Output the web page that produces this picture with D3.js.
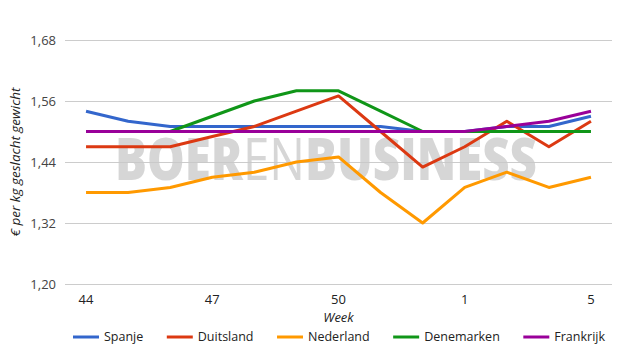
<!DOCTYPE html>
<html>
<head>
<meta charset="utf-8">
<script src="https://cdn.jsdelivr.net/npm/d3@7"></script>
<style>
  body { margin: 0; background: #fff; }
  text { font-family: "Open Sans", "DejaVu Sans", sans-serif; }
</style>
</head>
<body>
<div id="chart"></div>
<script>
var weeks = ["44", "45", "46", "47", "48", "49", "50", "51", "52", "1", "2", "3", "5"];
var tickWeeks = ["44", "47", "50", "1", "5"];
var yTicks = [1.20, 1.32, 1.44, 1.56, 1.68];

var spanje     = [1.54, 1.52, 1.51, 1.51, 1.51, 1.51, 1.51, 1.51, 1.50, 1.50, 1.51, 1.51, 1.53];
var duitsland  = [1.47, 1.47, 1.47, 1.49, 1.51, 1.54, 1.57, 1.50, 1.43, 1.47, 1.52, 1.47, 1.52];
var nederland  = [1.38, 1.38, 1.39, 1.41, 1.42, 1.44, 1.45, 1.38, 1.32, 1.39, 1.42, 1.39, 1.41];
var denemarken = [1.50, 1.50, 1.50, 1.53, 1.56, 1.58, 1.58, 1.54, 1.50, 1.50, 1.50, 1.50, 1.50];
var frankrijk  = [1.50, 1.50, 1.50, 1.50, 1.50, 1.50, 1.50, 1.50, 1.50, 1.50, 1.51, 1.52, 1.54];

var series = [
  {name: "Spanje", values: spanje, color: "#3366cc"},
  {name: "Duitsland", values: duitsland, color: "#dc3912"},
  {name: "Nederland", values: nederland, color: "#ff9900"},
  {name: "Denemarken", values: denemarken, color: "#109618"},
  {name: "Frankrijk", values: frankrijk, color: "#990099"}
];

var width = 625, height = 355;
var plotLeft = 65, plotRight = 612, plotTop = 40, plotBottom = 284;

var svg = d3.select("#chart").append("svg")
    .attr("width", width)
    .attr("height", height);

var x = d3.scaleBand()
    .domain(weeks)
    .range([plotLeft, plotRight]);

var y = d3.scaleLinear()
    .domain([1.20, 1.68])
    .range([plotBottom, plotTop]);

// gridlines
svg.append("g").selectAll("line")
    .data(yTicks)
  .enter().append("line")
    .attr("x1", plotLeft).attr("x2", plotRight)
    .attr("y1", function(d) { return Math.round(y(d)) + 0.5; })
    .attr("y2", function(d) { return Math.round(y(d)) + 0.5; })
    .attr("stroke", "#cccccc")
    .attr("stroke-width", 1);

// y tick labels
svg.append("g").selectAll("text")
    .data(yTicks)
  .enter().append("text")
    .attr("x", 56)
    .attr("y", function(d) { return y(d); })
    .attr("dy", "0.35em")
    .attr("text-anchor", "end")
    .attr("font-size", 13)
    .attr("fill", "#444")
    .text(function(d) { return d3.format(".2f")(d).replace(".", ","); });

// x tick labels
svg.append("g").selectAll("text")
    .data(tickWeeks)
  .enter().append("text")
    .attr("x", function(d) { return x(d) + x.bandwidth() / 2; })
    .attr("y", 304)
    .attr("text-anchor", "middle")
    .attr("font-size", 13)
    .attr("fill", "#222")
    .text(function(d) { return d; });

// axis titles
svg.append("text")
    .attr("x", x("50") + x.bandwidth() / 2)
    .attr("y", 322)
    .attr("text-anchor", "middle")
    .attr("font-size", 13)
    .attr("font-style", "italic")
    .attr("fill", "#222")
    .text("Week");

svg.append("text")
    .attr("transform", "translate(20," + y(1.44) + ") rotate(-90)")
    .attr("text-anchor", "middle")
    .attr("font-size", 13.5)
    .attr("font-style", "italic")
    .attr("fill", "#222")
    .text("€ per kg geslacht gewicht");

// watermark
var wm = svg.append("text")
    .attr("x", 115)
    .attr("y", 180)
    .attr("font-size", 59)
    .attr("fill", "#c8c8c8")
    .attr("fill-opacity", 0.75)
    .attr("textLength", 422)
    .attr("lengthAdjust", "spacingAndGlyphs");
wm.append("tspan").attr("font-weight", 800).text("BOER");
wm.append("tspan").attr("font-weight", 500).text("EN");
wm.append("tspan").attr("font-weight", 800).text("BUSINESS");

// lines
var line = d3.line()
    .x(function(d, i) { return x(weeks[i]) + x.bandwidth() / 2; })
    .y(function(d) { return y(d); });

svg.append("g").selectAll("path")
    .data(series)
  .enter().append("path")
    .attr("d", function(d) { return line(d.values); })
    .attr("fill", "none")
    .attr("stroke", function(d) { return d.color; })
    .attr("stroke-width", 3)
    .attr("stroke-linejoin", "round");

// legend
var legend = svg.append("g");
var lx = 73;
series.forEach(function(s) {
  legend.append("line")
      .attr("x1", lx).attr("x2", lx + 26)
      .attr("y1", 337).attr("y2", 337)
      .attr("stroke", s.color)
      .attr("stroke-width", 3);
  var t = legend.append("text")
      .attr("x", lx + 31)
      .attr("y", 337)
      .attr("dy", "0.35em")
      .attr("font-size", 12.5)
      .attr("fill", "#222")
      .text(s.name);
  lx += 31 + t.node().getComputedTextLength() + 23.5;
});
</script>
</body>
</html>
